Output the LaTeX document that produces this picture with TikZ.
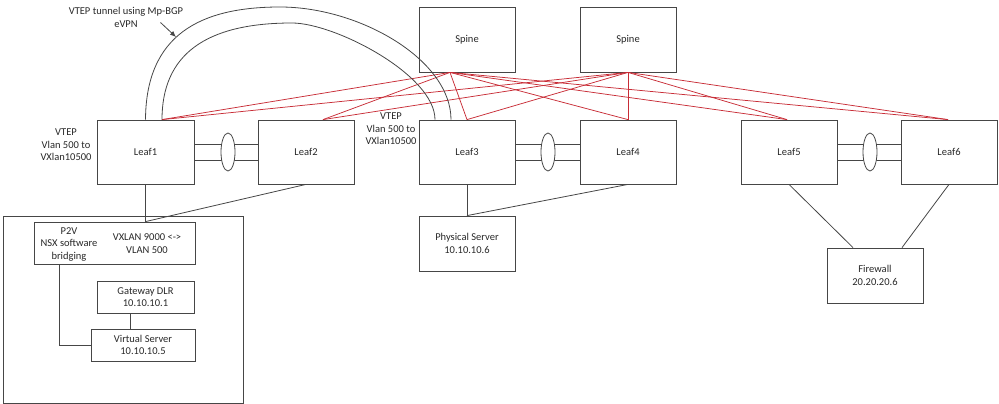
\documentclass[tikz,border=0pt]{standalone}
\usepackage{fontspec}
\setmainfont{Carlito}
\usetikzlibrary{shapes.geometric,arrows.meta,backgrounds}
\definecolor{redlink}{RGB}{200,45,55}
\definecolor{boxline}{RGB}{70,70,70}
\definecolor{txt}{RGB}{40,40,40}
\begin{document}
\begin{tikzpicture}[x=1pt,y=-1pt,
  every node/.style={font=\fontsize{10.5}{12.5}\selectfont, text=txt},
  dev/.style={draw=boxline, line width=0.8pt, minimum width=96pt, minimum height=64pt, inner sep=0pt},
  plainbox/.style={draw=boxline, line width=0.8pt, inner sep=0pt, align=center},
  lag/.style={draw=boxline, line width=0.8pt, ellipse, fill=white, minimum width=14pt, minimum height=38pt, inner sep=0pt},
  link/.style={draw=boxline, line width=0.8pt},
  redline/.style={draw=redlink, line width=0.75pt},
  lbl/.style={align=center, inner sep=0pt}]
\useasboundingbox (0,0) rectangle (999,404);

% spines
\node[dev, minimum height=65pt] (spine1) at (467,39.5) {Spine};
\node[dev, minimum height=65pt] (spine2) at (628,39.5) {Spine};
% leaves
\node[dev, minimum width=97pt] (leaf1) at (145.5,152) {Leaf1};
\node[dev] (leaf2) at (306,152) {Leaf2};
\node[dev] (leaf3) at (467,152) {Leaf3};
\node[dev] (leaf4) at (628,152) {Leaf4};
\node[dev] (leaf5) at (789,152) {Leaf5};
\node[dev] (leaf6) at (949,152) {Leaf6};
% lags
\node[lag] (lag1) at (228,152) {};
\node[lag] (lag2) at (548,152) {};
\node[lag] (lag3) at (870,152) {};

% host box
\node[plainbox, minimum width=240pt, minimum height=187pt] (host) at (123,309.5) {};
\node[plainbox, minimum width=161pt, minimum height=42pt] (p2v) at (114.5,243) {};
\node[lbl] (p2vl) at (69,244) {P2V\\NSX software\\bridging};
\node[lbl] (p2vr) at (147,243.5) {VXLAN 9000 <->\\VLAN 500};
\node[plainbox, minimum width=97pt, minimum height=32pt] (gateway) at (145.5,297) {Gateway DLR\\10.10.10.1};
\node[plainbox, minimum width=104pt, minimum height=32pt] (virtual) at (143,345) {Virtual Server\\10.10.10.5};

\node[plainbox, minimum width=96pt, minimum height=55pt] (physical) at (467,243.5) {Physical Server\\10.10.10.6};
\node[plainbox, minimum width=96pt, minimum height=55pt] (firewall) at (875,275.5) {Firewall\\20.20.20.6};

% labels
\node[lbl] (vtep1) at (66,145) {VTEP\\Vlan 500 to\\VXlan10500};
\node[lbl] (vtep2) at (391,129) {VTEP\\Vlan 500 to\\VXlan10500};
\node[lbl, font=\fontsize{10.5}{13}\selectfont] (tunnel) at (126,17.5) {VTEP tunnel using Mp-BGP\\eVPN};

% lag links
\begin{scope}[on background layer]
\foreach \a/\b in {leaf1/leaf2, leaf3/leaf4, leaf5/leaf6}{
  \draw[link] ([yshift=8]\a.east) -- ([yshift=8]\b.west);
  \draw[link] ([yshift=-8]\a.east) -- ([yshift=-8]\b.west);
}
\end{scope}

% spine-leaf red links
\foreach \s/\sx in {spine1/-17, spine2/0}{
  \foreach \l/\lx in {leaf1/16.5, leaf2/17, leaf3/0, leaf4/0, leaf5/-2, leaf6/-1}{
    \draw[redline] ([xshift=\sx]\s.south) -- ([xshift=\lx]\l.north);
  }
}

% VTEP tunnel arcs
\draw[link] (leaf1.north) .. controls (146,35) and (200,7) .. (280,7)
  .. controls (360,7) and (451,60) .. ([xshift=-16]leaf3.north);
\draw[link] ([xshift=16.5]leaf1.north) .. controls (162,55) and (205,23) .. (292,23)
  .. controls (335,23) and (435,75) .. ([xshift=-32]leaf3.north);
\coordinate (tuntail) at (160.5,22.5);
\coordinate (tuntip) at (176,37);
\draw[link, -{Latex[length=6pt,width=5pt]}] (tuntail) -- (tuntip);

% lower links
\draw[link] (leaf1.south) -- (leaf1.south |- p2v.north);
\draw[link] (leaf2.south) -- (leaf1.south |- p2v.north);
\draw[link] ([xshift=26]p2v.south west) |- (virtual.west);
\draw[link] ([xshift=-13]virtual.north) -- ([xshift=-15.5]gateway.south);
\draw[link] (leaf3.south) -- (physical.north);
\draw[link] (leaf4.south) -- (physical.north);
\draw[link] (leaf5.south) -- ([xshift=-22]firewall.north);
\draw[link] (leaf6.south) -- ([xshift=27]firewall.north);
\end{tikzpicture}
\end{document}
